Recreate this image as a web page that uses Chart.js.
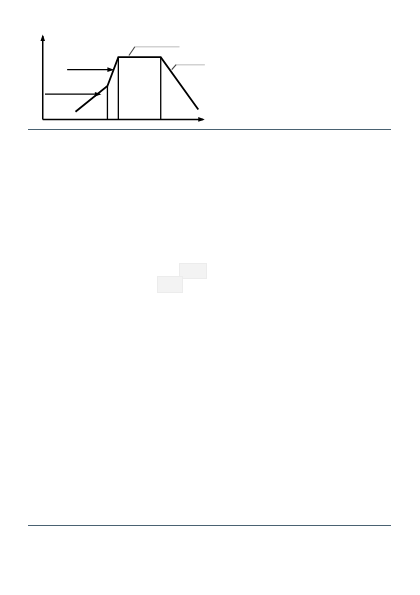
<!DOCTYPE html>
<html>
<head>
<meta charset="utf-8">
<script src="https://cdn.jsdelivr.net/npm/chart.js@4.4.1/dist/chart.umd.min.js"></script>
<style>
  html, body { margin: 0; padding: 0; background: #fff; }
  body { width: 420px; height: 595px; position: relative; overflow: hidden; }
  #wrap { position: absolute; left: 29px; top: 24.8px; width: 188px; height: 100.3px; }
  .rule { position: absolute; left: 28px; width: 363px; height: 1.4px; background: #4a6272; }
  .box { position: absolute; background: #f3f3f3; border: 1px solid #ececec; box-sizing: border-box; }
</style>
</head>
<body>
<div id="wrap"><canvas id="diagram"></canvas></div>
<div class="rule" style="top:129px"></div>
<div class="rule" style="top:524.5px"></div>
<div class="box" style="left:179px;top:263px;width:28px;height:16px"></div>
<div class="box" style="left:157px;top:276px;width:26px;height:17px"></div>
<script>
// curve: rising part, flat top, falling part (units: x 0..100 along axis, y 0..100 up axis)
const curveX = [20.4, 40.3, 47.1, 73.5, 96.9];
const curveY = [9.1, 40.0, 74.5, 74.5, 11.8];

// vertical drop lines under the curve
const dropX = [40.3, 47.1, 73.5];
const dropTop = [40.0, 74.5, 74.5];

// pointer arrows (left labels)
const arrowFrom = [1.4, 15.2];
const arrowTo = [35.6, 43.4];
const arrowY = [30.2, 59.6];

// leaders (right labels): tip on curve -> elbow -> end of grey line
const leaderTipX = [53.7, 80.4];
const leaderTipY = [76.5, 59.6];
const leaderElbowX = [57.4, 83.1];
const leaderElbowY = [87.0, 65.5];
const leaderEndX = [85.2, 101.0];

const pts = (xs, ys) => xs.map((x, i) => ({ x: x, y: ys[i] }));

const datasets = [];
const line = (data, color, width, arrow) => datasets.push({
  data: data, showLine: true, borderColor: color, borderWidth: width,
  pointRadius: 0, fill: false, tension: 0, arrow: arrow || null
});

// axes
line([{ x: 0, y: 0 }, { x: 0, y: 100 }], "#000", 1.5, "end");
line([{ x: 0, y: 0 }, { x: 100, y: 0 }], "#000", 1.5, "end");
// curve
line(pts(curveX, curveY), "#000", 1.8);
dropX.forEach((x, i) => line([{ x: x, y: 0 }, { x: x, y: dropTop[i] }], "#000", 1.3));
// left arrows
arrowY.forEach((y, i) => line([{ x: arrowFrom[i], y: y }, { x: arrowTo[i], y: y }], "#000", 1.2, "end"));
// right leaders
leaderTipX.forEach((x, i) => {
  line([{ x: leaderElbowX[i], y: leaderElbowY[i] }, { x: x, y: leaderTipY[i] }], "#444", 1.1);
  line([{ x: leaderElbowX[i], y: leaderElbowY[i] }, { x: leaderEndX[i], y: leaderElbowY[i] }], "#d2d2d2", 1.5);
});

// draws a small filled arrowhead at the last point of flagged datasets
const arrowHeads = {
  id: "arrowHeads",
  afterDatasetsDraw(chart) {
    const ctx = chart.ctx;
    const xs = chart.scales.x, ys = chart.scales.y;
    chart.data.datasets.forEach(ds => {
      if (!ds.arrow) return;
      const a = ds.data[ds.data.length - 2], b = ds.data[ds.data.length - 1];
      const x1 = xs.getPixelForValue(a.x), y1 = ys.getPixelForValue(a.y);
      const x2 = xs.getPixelForValue(b.x), y2 = ys.getPixelForValue(b.y);
      const ang = Math.atan2(y2 - y1, x2 - x1);
      const len = 5, half = 2.3;
      ctx.save();
      ctx.fillStyle = ds.borderColor;
      ctx.translate(x2, y2);
      ctx.rotate(ang);
      ctx.beginPath();
      ctx.moveTo(1.5, 0);
      ctx.lineTo(-len, -half);
      ctx.lineTo(-len, half);
      ctx.closePath();
      ctx.fill();
      ctx.restore();
    });
  }
};

new Chart(document.getElementById("diagram"), {
  type: "scatter",
  data: { datasets: datasets },
  options: {
    responsive: true,
    maintainAspectRatio: false,
    animation: false,
    layout: { padding: 0 },
    plugins: { legend: { display: false }, tooltip: { enabled: false } },
    scales: {
      x: { type: "linear", min: -8, max: 108, display: false },
      y: { type: "linear", min: -6, max: 112, display: false }
    }
  },
  plugins: [arrowHeads]
});
</script>
</body>
</html>
